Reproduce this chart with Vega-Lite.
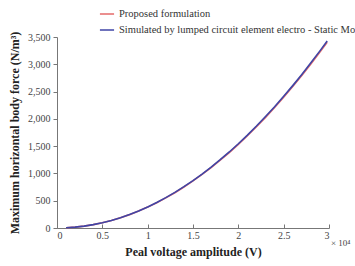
{
  "$schema": "https://vega.github.io/schema/vega-lite/v6.json",
  "autosize": "none",
  "width": 272,
  "height": 191,
  "padding": {"left": 57, "top": 37, "right": 26, "bottom": 38},
  "background": "white",
  "config": {
    "view": {"stroke": null},
    "font": "Liberation Serif",
    "axis": {
      "grid": false,
      "domainColor": "#777777",
      "tickColor": "#777777",
      "labelFont": "Liberation Serif",
      "labelFontSize": 10,
      "labelColor": "#444444",
      "titleFont": "Liberation Serif",
      "titleFontSize": 12,
      "titleFontWeight": "bold",
      "titleColor": "#222222"
    },
    "legend": {
      "labelFont": "Liberation Serif",
      "labelFontSize": 10.5,
      "labelColor": "#333333"
    }
  },
  "datasets": {
    "curves": [
      {"v": 0.1, "series": "Simulated by lumped circuit element electro - Static Model", "f": 3.9},
      {"v": 0.2, "series": "Simulated by lumped circuit element electro - Static Model", "f": 15.4},
      {"v": 0.3, "series": "Simulated by lumped circuit element electro - Static Model", "f": 34.7},
      {"v": 0.4, "series": "Simulated by lumped circuit element electro - Static Model", "f": 61.8},
      {"v": 0.5, "series": "Simulated by lumped circuit element electro - Static Model", "f": 96.5},
      {"v": 0.6, "series": "Simulated by lumped circuit element electro - Static Model", "f": 139},
      {"v": 0.7, "series": "Simulated by lumped circuit element electro - Static Model", "f": 189},
      {"v": 0.8, "series": "Simulated by lumped circuit element electro - Static Model", "f": 247},
      {"v": 0.9, "series": "Simulated by lumped circuit element electro - Static Model", "f": 313},
      {"v": 1.0, "series": "Simulated by lumped circuit element electro - Static Model", "f": 386},
      {"v": 1.1, "series": "Simulated by lumped circuit element electro - Static Model", "f": 467},
      {"v": 1.2, "series": "Simulated by lumped circuit element electro - Static Model", "f": 556},
      {"v": 1.3, "series": "Simulated by lumped circuit element electro - Static Model", "f": 652},
      {"v": 1.4, "series": "Simulated by lumped circuit element electro - Static Model", "f": 757},
      {"v": 1.5, "series": "Simulated by lumped circuit element electro - Static Model", "f": 869},
      {"v": 1.6, "series": "Simulated by lumped circuit element electro - Static Model", "f": 988},
      {"v": 1.7, "series": "Simulated by lumped circuit element electro - Static Model", "f": 1116},
      {"v": 1.8, "series": "Simulated by lumped circuit element electro - Static Model", "f": 1251},
      {"v": 1.9, "series": "Simulated by lumped circuit element electro - Static Model", "f": 1393},
      {"v": 2.0, "series": "Simulated by lumped circuit element electro - Static Model", "f": 1544},
      {"v": 2.1, "series": "Simulated by lumped circuit element electro - Static Model", "f": 1702},
      {"v": 2.2, "series": "Simulated by lumped circuit element electro - Static Model", "f": 1868},
      {"v": 2.3, "series": "Simulated by lumped circuit element electro - Static Model", "f": 2042},
      {"v": 2.4, "series": "Simulated by lumped circuit element electro - Static Model", "f": 2223},
      {"v": 2.5, "series": "Simulated by lumped circuit element electro - Static Model", "f": 2413},
      {"v": 2.6, "series": "Simulated by lumped circuit element electro - Static Model", "f": 2609},
      {"v": 2.7, "series": "Simulated by lumped circuit element electro - Static Model", "f": 2814},
      {"v": 2.8, "series": "Simulated by lumped circuit element electro - Static Model", "f": 3026},
      {"v": 2.9, "series": "Simulated by lumped circuit element electro - Static Model", "f": 3246},
      {"v": 2.98, "series": "Simulated by lumped circuit element electro - Static Model", "f": 3428},
      {"v": 0.1, "series": "Proposed formulation", "f": 3.9},
      {"v": 0.2, "series": "Proposed formulation", "f": 15.3},
      {"v": 0.3, "series": "Proposed formulation", "f": 34.5},
      {"v": 0.4, "series": "Proposed formulation", "f": 61.4},
      {"v": 0.5, "series": "Proposed formulation", "f": 95.8},
      {"v": 0.6, "series": "Proposed formulation", "f": 138},
      {"v": 0.7, "series": "Proposed formulation", "f": 188},
      {"v": 0.8, "series": "Proposed formulation", "f": 245},
      {"v": 0.9, "series": "Proposed formulation", "f": 311},
      {"v": 1.0, "series": "Proposed formulation", "f": 383},
      {"v": 1.1, "series": "Proposed formulation", "f": 464},
      {"v": 1.2, "series": "Proposed formulation", "f": 552},
      {"v": 1.3, "series": "Proposed formulation", "f": 647},
      {"v": 1.4, "series": "Proposed formulation", "f": 752},
      {"v": 1.5, "series": "Proposed formulation", "f": 863},
      {"v": 1.6, "series": "Proposed formulation", "f": 981},
      {"v": 1.7, "series": "Proposed formulation", "f": 1108},
      {"v": 1.8, "series": "Proposed formulation", "f": 1242},
      {"v": 1.9, "series": "Proposed formulation", "f": 1383},
      {"v": 2.0, "series": "Proposed formulation", "f": 1533},
      {"v": 2.1, "series": "Proposed formulation", "f": 1690},
      {"v": 2.2, "series": "Proposed formulation", "f": 1855},
      {"v": 2.3, "series": "Proposed formulation", "f": 2028},
      {"v": 2.4, "series": "Proposed formulation", "f": 2207},
      {"v": 2.5, "series": "Proposed formulation", "f": 2396},
      {"v": 2.6, "series": "Proposed formulation", "f": 2591},
      {"v": 2.7, "series": "Proposed formulation", "f": 2794},
      {"v": 2.8, "series": "Proposed formulation", "f": 3005},
      {"v": 2.9, "series": "Proposed formulation", "f": 3223},
      {"v": 2.98, "series": "Proposed formulation", "f": 3404}
    ],
    "note": [
      {"v": 3, "f": 0, "label": "× 10⁴"}
    ]
  },
  "encoding": {
    "x": {
      "field": "v", "type": "quantitative",
      "scale": {"domain": [0, 3], "nice": false},
      "axis": {"values": [0, 0.5, 1, 1.5, 2, 2.5, 3], "format": "~g", "tickSize": -4, "labelPadding": 6, "title": "Peal voltage amplitude (V)", "titlePadding": 6}
    },
    "y": {
      "field": "f", "type": "quantitative",
      "scale": {"domain": [0, 3500], "nice": false},
      "axis": {"values": [0, 500, 1000, 1500, 2000, 2500, 3000, 3500], "format": ",.0f", "tickSize": 4, "labelPadding": 3, "title": "Maximum horizontal body force (N/m³)", "titlePadding": 6}
    },
    "color": {
      "field": "series", "type": "nominal",
      "scale": {"domain": ["Proposed formulation", "Simulated by lumped circuit element electro - Static Model"], "range": ["#e46a6a", "#3f45a6"]},
      "legend": {"title": null, "orient": "none", "legendX": 42, "legendY": -31, "symbolType": "stroke", "symbolSize": 200, "symbolStrokeWidth": 1.5, "rowPadding": 2, "labelLimit": 400}
    }
  },
  "layer": [
    {
      "data": {"name": "curves"},
      "transform": [{"filter": "datum.series === 'Proposed formulation'"}],
      "mark": {"type": "line", "strokeWidth": 1.6, "clip": false}
    },
    {
      "data": {"name": "curves"},
      "transform": [{"filter": "datum.series !== 'Proposed formulation'"}],
      "mark": {"type": "line", "strokeWidth": 1.6, "clip": false}
    },
    {
      "data": {"name": "note"},
      "mark": {"type": "text", "align": "left", "baseline": "top", "dx": 2, "dy": 11, "fontSize": 9, "color": "#444444", "font": "Liberation Serif"},
      "encoding": {
        "text": {"field": "label"},
        "color": {"value": "#444444"}
      }
    }
  ]
}
